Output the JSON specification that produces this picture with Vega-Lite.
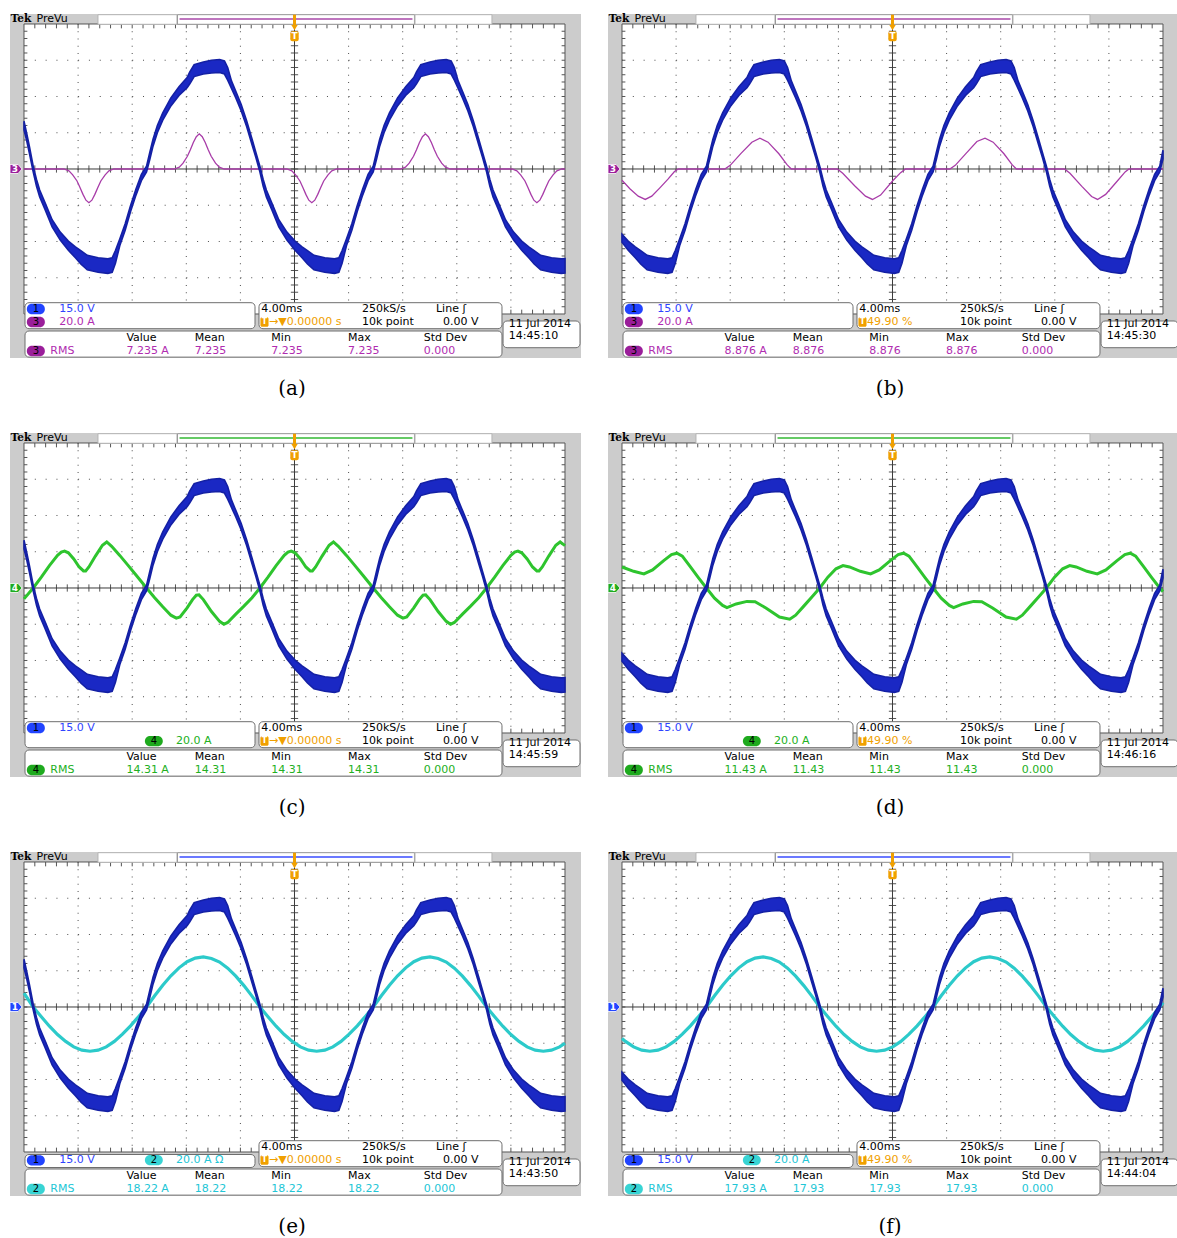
{
"$schema":"https://vega.github.io/schema/vega-lite/v6.json",
"padding":{"left":8,"top":12,"right":0,"bottom":0},
"background":"white",
"bounds":"flush",
"spacing":{"row":31,"column":27},
"columns":2,
"data":{"values":[
{"p":["a"],"s":"info","ch":"3","sel":"3","sc2":"20.0 A","trig":"→▼0.00000 s","rmsA":"7.235 A","rms":"7.235","tm":"14:45:10","lab":"(a)"},
{"p":["b"],"s":"info","ch":"3","sel":"3","sc2":"20.0 A","trig":" 49.90 %","rmsA":"8.876 A","rms":"8.876","tm":"14:45:30","lab":"(b)"},
{"p":["c"],"s":"info","ch":"4","sel":"4","sc2":"20.0 A","trig":"→▼0.00000 s","rmsA":"14.31 A","rms":"14.31","tm":"14:45:59","lab":"(c)"},
{"p":["d"],"s":"info","ch":"4","sel":"4","sc2":"20.0 A","trig":" 49.90 %","rmsA":"11.43 A","rms":"11.43","tm":"14:46:16","lab":"(d)"},
{"p":["e"],"s":"info","ch":"2","sel":"1","sc2":"20.0 A  Ω","trig":"→▼0.00000 s","rmsA":"18.22 A","rms":"18.22","tm":"14:43:50","lab":"(e)"},
{"p":["f"],"s":"info","ch":"2","sel":"1","sc2":"20.0 A","trig":" 49.90 %","rmsA":"17.93 A","rms":"17.93","tm":"14:44:04","lab":"(f)"},
{"p":["a","b","c","d","e","f"],"s":"gx","t":4},{"p":["a","b","c","d","e","f"],"s":"gx","t":8},{"p":["a","b","c","d","e","f"],"s":"gx","t":12},{"p":["a","b","c","d","e","f"],"s":"gx","t":16},{"p":["a","b","c","d","e","f"],"s":"gx","t":24},{"p":["a","b","c","d","e","f"],"s":"gx","t":28},{"p":["a","b","c","d","e","f"],"s":"gx","t":32},{"p":["a","b","c","d","e","f"],"s":"gx","t":36},
{"p":["a","b","c","d","e","f"],"s":"gy","y":-3},{"p":["a","b","c","d","e","f"],"s":"gy","y":-2},{"p":["a","b","c","d","e","f"],"s":"gy","y":-1},{"p":["a","b","c","d","e","f"],"s":"gy","y":1},{"p":["a","b","c","d","e","f"],"s":"gy","y":2},{"p":["a","b","c","d","e","f"],"s":"gy","y":3},
{"p":["a","b","c","d","e","f"],"s":"tx","t":0.8},{"p":["a","b","c","d","e","f"],"s":"tx","t":1.6},{"p":["a","b","c","d","e","f"],"s":"tx","t":2.4},{"p":["a","b","c","d","e","f"],"s":"tx","t":3.2},{"p":["a","b","c","d","e","f"],"s":"tx","t":4},{"p":["a","b","c","d","e","f"],"s":"tx","t":4.8},{"p":["a","b","c","d","e","f"],"s":"tx","t":5.6},{"p":["a","b","c","d","e","f"],"s":"tx","t":6.4},{"p":["a","b","c","d","e","f"],"s":"tx","t":7.2},{"p":["a","b","c","d","e","f"],"s":"tx","t":8},{"p":["a","b","c","d","e","f"],"s":"tx","t":8.8},{"p":["a","b","c","d","e","f"],"s":"tx","t":9.6},{"p":["a","b","c","d","e","f"],"s":"tx","t":10.4},{"p":["a","b","c","d","e","f"],"s":"tx","t":11.2},{"p":["a","b","c","d","e","f"],"s":"tx","t":12},{"p":["a","b","c","d","e","f"],"s":"tx","t":12.8},{"p":["a","b","c","d","e","f"],"s":"tx","t":13.6},{"p":["a","b","c","d","e","f"],"s":"tx","t":14.4},{"p":["a","b","c","d","e","f"],"s":"tx","t":15.2},{"p":["a","b","c","d","e","f"],"s":"tx","t":16},{"p":["a","b","c","d","e","f"],"s":"tx","t":16.8},{"p":["a","b","c","d","e","f"],"s":"tx","t":17.6},{"p":["a","b","c","d","e","f"],"s":"tx","t":18.4},{"p":["a","b","c","d","e","f"],"s":"tx","t":19.2},{"p":["a","b","c","d","e","f"],"s":"tx","t":20},{"p":["a","b","c","d","e","f"],"s":"tx","t":20.8},{"p":["a","b","c","d","e","f"],"s":"tx","t":21.6},{"p":["a","b","c","d","e","f"],"s":"tx","t":22.4},{"p":["a","b","c","d","e","f"],"s":"tx","t":23.2},{"p":["a","b","c","d","e","f"],"s":"tx","t":24},{"p":["a","b","c","d","e","f"],"s":"tx","t":24.8},{"p":["a","b","c","d","e","f"],"s":"tx","t":25.6},{"p":["a","b","c","d","e","f"],"s":"tx","t":26.4},{"p":["a","b","c","d","e","f"],"s":"tx","t":27.2},{"p":["a","b","c","d","e","f"],"s":"tx","t":28},{"p":["a","b","c","d","e","f"],"s":"tx","t":28.8},{"p":["a","b","c","d","e","f"],"s":"tx","t":29.6},{"p":["a","b","c","d","e","f"],"s":"tx","t":30.4},{"p":["a","b","c","d","e","f"],"s":"tx","t":31.2},{"p":["a","b","c","d","e","f"],"s":"tx","t":32},{"p":["a","b","c","d","e","f"],"s":"tx","t":32.8},{"p":["a","b","c","d","e","f"],"s":"tx","t":33.6},{"p":["a","b","c","d","e","f"],"s":"tx","t":34.4},{"p":["a","b","c","d","e","f"],"s":"tx","t":35.2},{"p":["a","b","c","d","e","f"],"s":"tx","t":36},{"p":["a","b","c","d","e","f"],"s":"tx","t":36.8},{"p":["a","b","c","d","e","f"],"s":"tx","t":37.6},{"p":["a","b","c","d","e","f"],"s":"tx","t":38.4},{"p":["a","b","c","d","e","f"],"s":"tx","t":39.2},
{"p":["a","b","c","d","e","f"],"s":"ty","y":-3.8},{"p":["a","b","c","d","e","f"],"s":"ty","y":-3.6},{"p":["a","b","c","d","e","f"],"s":"ty","y":-3.4},{"p":["a","b","c","d","e","f"],"s":"ty","y":-3.2},{"p":["a","b","c","d","e","f"],"s":"ty","y":-3},{"p":["a","b","c","d","e","f"],"s":"ty","y":-2.8},{"p":["a","b","c","d","e","f"],"s":"ty","y":-2.6},{"p":["a","b","c","d","e","f"],"s":"ty","y":-2.4},{"p":["a","b","c","d","e","f"],"s":"ty","y":-2.2},{"p":["a","b","c","d","e","f"],"s":"ty","y":-2},{"p":["a","b","c","d","e","f"],"s":"ty","y":-1.8},{"p":["a","b","c","d","e","f"],"s":"ty","y":-1.6},{"p":["a","b","c","d","e","f"],"s":"ty","y":-1.4},{"p":["a","b","c","d","e","f"],"s":"ty","y":-1.2},{"p":["a","b","c","d","e","f"],"s":"ty","y":-1},{"p":["a","b","c","d","e","f"],"s":"ty","y":-0.8},{"p":["a","b","c","d","e","f"],"s":"ty","y":-0.6},{"p":["a","b","c","d","e","f"],"s":"ty","y":-0.4},{"p":["a","b","c","d","e","f"],"s":"ty","y":-0.2},{"p":["a","b","c","d","e","f"],"s":"ty","y":0},{"p":["a","b","c","d","e","f"],"s":"ty","y":0.2},{"p":["a","b","c","d","e","f"],"s":"ty","y":0.4},{"p":["a","b","c","d","e","f"],"s":"ty","y":0.6},{"p":["a","b","c","d","e","f"],"s":"ty","y":0.8},{"p":["a","b","c","d","e","f"],"s":"ty","y":1},{"p":["a","b","c","d","e","f"],"s":"ty","y":1.2},{"p":["a","b","c","d","e","f"],"s":"ty","y":1.4},{"p":["a","b","c","d","e","f"],"s":"ty","y":1.6},{"p":["a","b","c","d","e","f"],"s":"ty","y":1.8},{"p":["a","b","c","d","e","f"],"s":"ty","y":2},{"p":["a","b","c","d","e","f"],"s":"ty","y":2.2},{"p":["a","b","c","d","e","f"],"s":"ty","y":2.4},{"p":["a","b","c","d","e","f"],"s":"ty","y":2.6},{"p":["a","b","c","d","e","f"],"s":"ty","y":2.8},{"p":["a","b","c","d","e","f"],"s":"ty","y":3},{"p":["a","b","c","d","e","f"],"s":"ty","y":3.2},{"p":["a","b","c","d","e","f"],"s":"ty","y":3.4},{"p":["a","b","c","d","e","f"],"s":"ty","y":3.6},{"p":["a","b","c","d","e","f"],"s":"ty","y":3.8},
{"p":["a","c","e"],"s":"v","t":0,"lo":1.08,"hi":1.32},{"p":["a","c","e"],"s":"v","t":0.2,"lo":0.78,"hi":0.98},{"p":["a","c","e"],"s":"v","t":0.4,"lo":0.43,"hi":0.62},{"p":["a","c","e"],"s":"v","t":0.68,"lo":-0.08,"hi":0.08},{"p":["a","c","e"],"s":"v","t":0.92,"lo":-0.47,"hi":-0.28},{"p":["a","c","e"],"s":"v","t":1.16,"lo":-0.77,"hi":-0.58},{"p":["a","c","e"],"s":"v","t":1.56,"lo":-1.12,"hi":-0.93},{"p":["a","c","e"],"s":"v","t":2.08,"lo":-1.6,"hi":-1.4},{"p":["a","c","e"],"s":"v","t":2.68,"lo":-1.96,"hi":-1.74},{"p":["a","c","e"],"s":"v","t":3.28,"lo":-2.24,"hi":-1.99},{"p":["a","c","e"],"s":"v","t":3.8,"lo":-2.45,"hi":-2.15},{"p":["a","c","e"],"s":"v","t":4.2,"lo":-2.62,"hi":-2.25},{"p":["a","c","e"],"s":"v","t":4.68,"lo":-2.78,"hi":-2.38},{"p":["a","c","e"],"s":"v","t":5.48,"lo":-2.85,"hi":-2.45},{"p":["a","c","e"],"s":"v","t":6.2,"lo":-2.88,"hi":-2.48},{"p":["a","c","e"],"s":"v","t":6.52,"lo":-2.85,"hi":-2.45},{"p":["a","c","e"],"s":"v","t":6.76,"lo":-2.6,"hi":-2.25},{"p":["a","c","e"],"s":"v","t":7.08,"lo":-2.12,"hi":-1.93},{"p":["a","c","e"],"s":"v","t":7.48,"lo":-1.69,"hi":-1.51},{"p":["a","c","e"],"s":"v","t":7.88,"lo":-1.17,"hi":-1.01},{"p":["a","c","e"],"s":"v","t":8.28,"lo":-0.72,"hi":-0.55},{"p":["a","c","e"],"s":"v","t":8.68,"lo":-0.32,"hi":-0.15},{"p":["a","c","e"],"s":"v","t":9.06,"lo":-0.08,"hi":0.08},{"p":["a","c","e"],"s":"v","t":9.3,"lo":0.26,"hi":0.46},{"p":["a","c","e"],"s":"v","t":9.54,"lo":0.63,"hi":0.82},{"p":["a","c","e"],"s":"v","t":9.86,"lo":1.0,"hi":1.2},{"p":["a","c","e"],"s":"v","t":10.26,"lo":1.35,"hi":1.55},{"p":["a","c","e"],"s":"v","t":10.86,"lo":1.74,"hi":1.96},{"p":["a","c","e"],"s":"v","t":11.46,"lo":2.03,"hi":2.27},{"p":["a","c","e"],"s":"v","t":12.06,"lo":2.24,"hi":2.52},{"p":["a","c","e"],"s":"v","t":12.26,"lo":2.35,"hi":2.68},{"p":["a","c","e"],"s":"v","t":12.58,"lo":2.55,"hi":2.88},{"p":["a","c","e"],"s":"v","t":13.26,"lo":2.62,"hi":2.95},{"p":["a","c","e"],"s":"v","t":13.86,"lo":2.65,"hi":3.0},{"p":["a","c","e"],"s":"v","t":14.46,"lo":2.66,"hi":3.02},{"p":["a","c","e"],"s":"v","t":14.82,"lo":2.62,"hi":2.98},{"p":["a","c","e"],"s":"v","t":15.06,"lo":2.45,"hi":2.8},{"p":["a","c","e"],"s":"v","t":15.34,"lo":2.22,"hi":2.43},{"p":["a","c","e"],"s":"v","t":15.66,"lo":1.96,"hi":2.14},{"p":["a","c","e"],"s":"v","t":16.06,"lo":1.6,"hi":1.78},{"p":["a","c","e"],"s":"v","t":16.46,"lo":1.17,"hi":1.33},{"p":["a","c","e"],"s":"v","t":16.86,"lo":0.67,"hi":0.83},{"p":["a","c","e"],"s":"v","t":17.14,"lo":0.32,"hi":0.46},{"p":["a","c","e"],"s":"v","t":17.44,"lo":-0.08,"hi":0.08},{"p":["a","c","e"],"s":"v","t":17.68,"lo":-0.47,"hi":-0.28},{"p":["a","c","e"],"s":"v","t":17.92,"lo":-0.77,"hi":-0.58},{"p":["a","c","e"],"s":"v","t":18.32,"lo":-1.12,"hi":-0.93},{"p":["a","c","e"],"s":"v","t":18.84,"lo":-1.6,"hi":-1.4},{"p":["a","c","e"],"s":"v","t":19.44,"lo":-1.96,"hi":-1.74},{"p":["a","c","e"],"s":"v","t":20.04,"lo":-2.24,"hi":-1.99},{"p":["a","c","e"],"s":"v","t":20.56,"lo":-2.45,"hi":-2.15},{"p":["a","c","e"],"s":"v","t":20.96,"lo":-2.62,"hi":-2.25},{"p":["a","c","e"],"s":"v","t":21.44,"lo":-2.78,"hi":-2.38},{"p":["a","c","e"],"s":"v","t":22.24,"lo":-2.85,"hi":-2.45},{"p":["a","c","e"],"s":"v","t":22.96,"lo":-2.88,"hi":-2.48},{"p":["a","c","e"],"s":"v","t":23.28,"lo":-2.85,"hi":-2.45},{"p":["a","c","e"],"s":"v","t":23.52,"lo":-2.6,"hi":-2.25},{"p":["a","c","e"],"s":"v","t":23.84,"lo":-2.12,"hi":-1.93},{"p":["a","c","e"],"s":"v","t":24.24,"lo":-1.69,"hi":-1.51},{"p":["a","c","e"],"s":"v","t":24.64,"lo":-1.17,"hi":-1.01},{"p":["a","c","e"],"s":"v","t":25.04,"lo":-0.72,"hi":-0.55},{"p":["a","c","e"],"s":"v","t":25.44,"lo":-0.32,"hi":-0.15},{"p":["a","c","e"],"s":"v","t":25.82,"lo":-0.08,"hi":0.08},{"p":["a","c","e"],"s":"v","t":26.06,"lo":0.26,"hi":0.46},{"p":["a","c","e"],"s":"v","t":26.3,"lo":0.63,"hi":0.82},{"p":["a","c","e"],"s":"v","t":26.62,"lo":1.0,"hi":1.2},{"p":["a","c","e"],"s":"v","t":27.02,"lo":1.35,"hi":1.55},{"p":["a","c","e"],"s":"v","t":27.62,"lo":1.74,"hi":1.96},{"p":["a","c","e"],"s":"v","t":28.22,"lo":2.03,"hi":2.27},{"p":["a","c","e"],"s":"v","t":28.82,"lo":2.24,"hi":2.52},{"p":["a","c","e"],"s":"v","t":29.02,"lo":2.35,"hi":2.68},{"p":["a","c","e"],"s":"v","t":29.34,"lo":2.55,"hi":2.88},{"p":["a","c","e"],"s":"v","t":30.02,"lo":2.62,"hi":2.95},{"p":["a","c","e"],"s":"v","t":30.62,"lo":2.65,"hi":3.0},{"p":["a","c","e"],"s":"v","t":31.22,"lo":2.66,"hi":3.02},{"p":["a","c","e"],"s":"v","t":31.58,"lo":2.62,"hi":2.98},{"p":["a","c","e"],"s":"v","t":31.82,"lo":2.45,"hi":2.8},{"p":["a","c","e"],"s":"v","t":32.1,"lo":2.22,"hi":2.43},{"p":["a","c","e"],"s":"v","t":32.42,"lo":1.96,"hi":2.14},{"p":["a","c","e"],"s":"v","t":32.82,"lo":1.6,"hi":1.78},{"p":["a","c","e"],"s":"v","t":33.22,"lo":1.17,"hi":1.33},{"p":["a","c","e"],"s":"v","t":33.62,"lo":0.67,"hi":0.83},{"p":["a","c","e"],"s":"v","t":33.9,"lo":0.32,"hi":0.46},{"p":["a","c","e"],"s":"v","t":34.2,"lo":-0.08,"hi":0.08},{"p":["a","c","e"],"s":"v","t":34.44,"lo":-0.47,"hi":-0.28},{"p":["a","c","e"],"s":"v","t":34.68,"lo":-0.77,"hi":-0.58},{"p":["a","c","e"],"s":"v","t":35.08,"lo":-1.12,"hi":-0.93},{"p":["a","c","e"],"s":"v","t":35.6,"lo":-1.6,"hi":-1.4},{"p":["a","c","e"],"s":"v","t":36.2,"lo":-1.96,"hi":-1.74},{"p":["a","c","e"],"s":"v","t":36.8,"lo":-2.24,"hi":-1.99},{"p":["a","c","e"],"s":"v","t":37.32,"lo":-2.45,"hi":-2.15},{"p":["a","c","e"],"s":"v","t":37.72,"lo":-2.62,"hi":-2.25},{"p":["a","c","e"],"s":"v","t":38.2,"lo":-2.78,"hi":-2.38},{"p":["a","c","e"],"s":"v","t":39.0,"lo":-2.85,"hi":-2.45},{"p":["a","c","e"],"s":"v","t":39.72,"lo":-2.88,"hi":-2.48},{"p":["a","c","e"],"s":"v","t":40,"lo":-2.87,"hi":-2.47},
{"p":["b","d","f"],"s":"v","t":0,"lo":-2.02,"hi":-1.8},{"p":["b","d","f"],"s":"v","t":0.46,"lo":-2.24,"hi":-1.99},{"p":["b","d","f"],"s":"v","t":0.98,"lo":-2.45,"hi":-2.15},{"p":["b","d","f"],"s":"v","t":1.38,"lo":-2.62,"hi":-2.25},{"p":["b","d","f"],"s":"v","t":1.86,"lo":-2.78,"hi":-2.38},{"p":["b","d","f"],"s":"v","t":2.66,"lo":-2.85,"hi":-2.45},{"p":["b","d","f"],"s":"v","t":3.38,"lo":-2.88,"hi":-2.48},{"p":["b","d","f"],"s":"v","t":3.7,"lo":-2.85,"hi":-2.45},{"p":["b","d","f"],"s":"v","t":3.94,"lo":-2.6,"hi":-2.25},{"p":["b","d","f"],"s":"v","t":4.26,"lo":-2.12,"hi":-1.93},{"p":["b","d","f"],"s":"v","t":4.66,"lo":-1.69,"hi":-1.51},{"p":["b","d","f"],"s":"v","t":5.06,"lo":-1.17,"hi":-1.01},{"p":["b","d","f"],"s":"v","t":5.46,"lo":-0.72,"hi":-0.55},{"p":["b","d","f"],"s":"v","t":5.86,"lo":-0.32,"hi":-0.15},{"p":["b","d","f"],"s":"v","t":6.24,"lo":-0.08,"hi":0.08},{"p":["b","d","f"],"s":"v","t":6.48,"lo":0.26,"hi":0.46},{"p":["b","d","f"],"s":"v","t":6.72,"lo":0.63,"hi":0.82},{"p":["b","d","f"],"s":"v","t":7.04,"lo":1.0,"hi":1.2},{"p":["b","d","f"],"s":"v","t":7.44,"lo":1.35,"hi":1.55},{"p":["b","d","f"],"s":"v","t":8.04,"lo":1.74,"hi":1.96},{"p":["b","d","f"],"s":"v","t":8.64,"lo":2.03,"hi":2.27},{"p":["b","d","f"],"s":"v","t":9.24,"lo":2.24,"hi":2.52},{"p":["b","d","f"],"s":"v","t":9.44,"lo":2.35,"hi":2.68},{"p":["b","d","f"],"s":"v","t":9.76,"lo":2.55,"hi":2.88},{"p":["b","d","f"],"s":"v","t":10.44,"lo":2.62,"hi":2.95},{"p":["b","d","f"],"s":"v","t":11.04,"lo":2.65,"hi":3.0},{"p":["b","d","f"],"s":"v","t":11.64,"lo":2.66,"hi":3.02},{"p":["b","d","f"],"s":"v","t":12.0,"lo":2.62,"hi":2.98},{"p":["b","d","f"],"s":"v","t":12.24,"lo":2.45,"hi":2.8},{"p":["b","d","f"],"s":"v","t":12.52,"lo":2.22,"hi":2.43},{"p":["b","d","f"],"s":"v","t":12.84,"lo":1.96,"hi":2.14},{"p":["b","d","f"],"s":"v","t":13.24,"lo":1.6,"hi":1.78},{"p":["b","d","f"],"s":"v","t":13.64,"lo":1.17,"hi":1.33},{"p":["b","d","f"],"s":"v","t":14.04,"lo":0.67,"hi":0.83},{"p":["b","d","f"],"s":"v","t":14.32,"lo":0.32,"hi":0.46},{"p":["b","d","f"],"s":"v","t":14.62,"lo":-0.08,"hi":0.08},{"p":["b","d","f"],"s":"v","t":14.86,"lo":-0.47,"hi":-0.28},{"p":["b","d","f"],"s":"v","t":15.1,"lo":-0.77,"hi":-0.58},{"p":["b","d","f"],"s":"v","t":15.5,"lo":-1.12,"hi":-0.93},{"p":["b","d","f"],"s":"v","t":16.02,"lo":-1.6,"hi":-1.4},{"p":["b","d","f"],"s":"v","t":16.62,"lo":-1.96,"hi":-1.74},{"p":["b","d","f"],"s":"v","t":17.22,"lo":-2.24,"hi":-1.99},{"p":["b","d","f"],"s":"v","t":17.74,"lo":-2.45,"hi":-2.15},{"p":["b","d","f"],"s":"v","t":18.14,"lo":-2.62,"hi":-2.25},{"p":["b","d","f"],"s":"v","t":18.62,"lo":-2.78,"hi":-2.38},{"p":["b","d","f"],"s":"v","t":19.42,"lo":-2.85,"hi":-2.45},{"p":["b","d","f"],"s":"v","t":20.14,"lo":-2.88,"hi":-2.48},{"p":["b","d","f"],"s":"v","t":20.46,"lo":-2.85,"hi":-2.45},{"p":["b","d","f"],"s":"v","t":20.7,"lo":-2.6,"hi":-2.25},{"p":["b","d","f"],"s":"v","t":21.02,"lo":-2.12,"hi":-1.93},{"p":["b","d","f"],"s":"v","t":21.42,"lo":-1.69,"hi":-1.51},{"p":["b","d","f"],"s":"v","t":21.82,"lo":-1.17,"hi":-1.01},{"p":["b","d","f"],"s":"v","t":22.22,"lo":-0.72,"hi":-0.55},{"p":["b","d","f"],"s":"v","t":22.62,"lo":-0.32,"hi":-0.15},{"p":["b","d","f"],"s":"v","t":23.0,"lo":-0.08,"hi":0.08},{"p":["b","d","f"],"s":"v","t":23.24,"lo":0.26,"hi":0.46},{"p":["b","d","f"],"s":"v","t":23.48,"lo":0.63,"hi":0.82},{"p":["b","d","f"],"s":"v","t":23.8,"lo":1.0,"hi":1.2},{"p":["b","d","f"],"s":"v","t":24.2,"lo":1.35,"hi":1.55},{"p":["b","d","f"],"s":"v","t":24.8,"lo":1.74,"hi":1.96},{"p":["b","d","f"],"s":"v","t":25.4,"lo":2.03,"hi":2.27},{"p":["b","d","f"],"s":"v","t":26.0,"lo":2.24,"hi":2.52},{"p":["b","d","f"],"s":"v","t":26.2,"lo":2.35,"hi":2.68},{"p":["b","d","f"],"s":"v","t":26.52,"lo":2.55,"hi":2.88},{"p":["b","d","f"],"s":"v","t":27.2,"lo":2.62,"hi":2.95},{"p":["b","d","f"],"s":"v","t":27.8,"lo":2.65,"hi":3.0},{"p":["b","d","f"],"s":"v","t":28.4,"lo":2.66,"hi":3.02},{"p":["b","d","f"],"s":"v","t":28.76,"lo":2.62,"hi":2.98},{"p":["b","d","f"],"s":"v","t":29.0,"lo":2.45,"hi":2.8},{"p":["b","d","f"],"s":"v","t":29.28,"lo":2.22,"hi":2.43},{"p":["b","d","f"],"s":"v","t":29.6,"lo":1.96,"hi":2.14},{"p":["b","d","f"],"s":"v","t":30.0,"lo":1.6,"hi":1.78},{"p":["b","d","f"],"s":"v","t":30.4,"lo":1.17,"hi":1.33},{"p":["b","d","f"],"s":"v","t":30.8,"lo":0.67,"hi":0.83},{"p":["b","d","f"],"s":"v","t":31.08,"lo":0.32,"hi":0.46},{"p":["b","d","f"],"s":"v","t":31.38,"lo":-0.08,"hi":0.08},{"p":["b","d","f"],"s":"v","t":31.62,"lo":-0.47,"hi":-0.28},{"p":["b","d","f"],"s":"v","t":31.86,"lo":-0.77,"hi":-0.58},{"p":["b","d","f"],"s":"v","t":32.26,"lo":-1.12,"hi":-0.93},{"p":["b","d","f"],"s":"v","t":32.78,"lo":-1.6,"hi":-1.4},{"p":["b","d","f"],"s":"v","t":33.38,"lo":-1.96,"hi":-1.74},{"p":["b","d","f"],"s":"v","t":33.98,"lo":-2.24,"hi":-1.99},{"p":["b","d","f"],"s":"v","t":34.5,"lo":-2.45,"hi":-2.15},{"p":["b","d","f"],"s":"v","t":34.9,"lo":-2.62,"hi":-2.25},{"p":["b","d","f"],"s":"v","t":35.38,"lo":-2.78,"hi":-2.38},{"p":["b","d","f"],"s":"v","t":36.18,"lo":-2.85,"hi":-2.45},{"p":["b","d","f"],"s":"v","t":36.9,"lo":-2.88,"hi":-2.48},{"p":["b","d","f"],"s":"v","t":37.22,"lo":-2.85,"hi":-2.45},{"p":["b","d","f"],"s":"v","t":37.46,"lo":-2.6,"hi":-2.25},{"p":["b","d","f"],"s":"v","t":37.78,"lo":-2.12,"hi":-1.93},{"p":["b","d","f"],"s":"v","t":38.18,"lo":-1.69,"hi":-1.51},{"p":["b","d","f"],"s":"v","t":38.58,"lo":-1.17,"hi":-1.01},{"p":["b","d","f"],"s":"v","t":38.98,"lo":-0.72,"hi":-0.55},{"p":["b","d","f"],"s":"v","t":39.38,"lo":-0.32,"hi":-0.15},{"p":["b","d","f"],"s":"v","t":39.76,"lo":-0.08,"hi":0.08},{"p":["b","d","f"],"s":"v","t":40,"lo":0.28,"hi":0.52},
{"p":["a"],"s":"m","t":0,"v":0},{"p":["a"],"s":"m","t":2.96,"v":0},{"p":["a"],"s":"m","t":3.32,"v":-0.05},{"p":["a"],"s":"m","t":3.6,"v":-0.16},{"p":["a"],"s":"m","t":3.92,"v":-0.33},{"p":["a"],"s":"m","t":4.14,"v":-0.51},{"p":["a"],"s":"m","t":4.36,"v":-0.7},{"p":["a"],"s":"m","t":4.58,"v":-0.86},{"p":["a"],"s":"m","t":4.8,"v":-0.93},{"p":["a"],"s":"m","t":5.02,"v":-0.86},{"p":["a"],"s":"m","t":5.24,"v":-0.7},{"p":["a"],"s":"m","t":5.46,"v":-0.51},{"p":["a"],"s":"m","t":5.68,"v":-0.33},{"p":["a"],"s":"m","t":6.0,"v":-0.16},{"p":["a"],"s":"m","t":6.28,"v":-0.05},{"p":["a"],"s":"m","t":6.64,"v":0},{"p":["a"],"s":"m","t":11.12,"v":0},{"p":["a"],"s":"m","t":11.48,"v":0.05},{"p":["a"],"s":"m","t":11.76,"v":0.16},{"p":["a"],"s":"m","t":12.08,"v":0.35},{"p":["a"],"s":"m","t":12.3,"v":0.53},{"p":["a"],"s":"m","t":12.52,"v":0.73},{"p":["a"],"s":"m","t":12.74,"v":0.89},{"p":["a"],"s":"m","t":12.96,"v":0.97},{"p":["a"],"s":"m","t":13.18,"v":0.89},{"p":["a"],"s":"m","t":13.4,"v":0.73},{"p":["a"],"s":"m","t":13.62,"v":0.53},{"p":["a"],"s":"m","t":13.84,"v":0.35},{"p":["a"],"s":"m","t":14.16,"v":0.16},{"p":["a"],"s":"m","t":14.44,"v":0.05},{"p":["a"],"s":"m","t":14.8,"v":0},{"p":["a"],"s":"m","t":19.44,"v":0},{"p":["a"],"s":"m","t":19.8,"v":-0.05},{"p":["a"],"s":"m","t":20.08,"v":-0.16},{"p":["a"],"s":"m","t":20.4,"v":-0.33},{"p":["a"],"s":"m","t":20.62,"v":-0.51},{"p":["a"],"s":"m","t":20.84,"v":-0.7},{"p":["a"],"s":"m","t":21.06,"v":-0.86},{"p":["a"],"s":"m","t":21.28,"v":-0.93},{"p":["a"],"s":"m","t":21.5,"v":-0.86},{"p":["a"],"s":"m","t":21.72,"v":-0.7},{"p":["a"],"s":"m","t":21.94,"v":-0.51},{"p":["a"],"s":"m","t":22.16,"v":-0.33},{"p":["a"],"s":"m","t":22.48,"v":-0.16},{"p":["a"],"s":"m","t":22.76,"v":-0.05},{"p":["a"],"s":"m","t":23.12,"v":0},{"p":["a"],"s":"m","t":27.84,"v":0},{"p":["a"],"s":"m","t":28.2,"v":0.05},{"p":["a"],"s":"m","t":28.48,"v":0.16},{"p":["a"],"s":"m","t":28.8,"v":0.35},{"p":["a"],"s":"m","t":29.02,"v":0.53},{"p":["a"],"s":"m","t":29.24,"v":0.73},{"p":["a"],"s":"m","t":29.46,"v":0.89},{"p":["a"],"s":"m","t":29.68,"v":0.97},{"p":["a"],"s":"m","t":29.9,"v":0.89},{"p":["a"],"s":"m","t":30.12,"v":0.73},{"p":["a"],"s":"m","t":30.34,"v":0.53},{"p":["a"],"s":"m","t":30.56,"v":0.35},{"p":["a"],"s":"m","t":30.88,"v":0.16},{"p":["a"],"s":"m","t":31.16,"v":0.05},{"p":["a"],"s":"m","t":31.52,"v":0},{"p":["a"],"s":"m","t":36.08,"v":0},{"p":["a"],"s":"m","t":36.44,"v":-0.05},{"p":["a"],"s":"m","t":36.72,"v":-0.16},{"p":["a"],"s":"m","t":37.04,"v":-0.33},{"p":["a"],"s":"m","t":37.26,"v":-0.51},{"p":["a"],"s":"m","t":37.48,"v":-0.7},{"p":["a"],"s":"m","t":37.7,"v":-0.86},{"p":["a"],"s":"m","t":37.92,"v":-0.93},{"p":["a"],"s":"m","t":38.14,"v":-0.86},{"p":["a"],"s":"m","t":38.36,"v":-0.7},{"p":["a"],"s":"m","t":38.58,"v":-0.51},{"p":["a"],"s":"m","t":38.8,"v":-0.33},{"p":["a"],"s":"m","t":39.12,"v":-0.16},{"p":["a"],"s":"m","t":39.4,"v":-0.05},{"p":["a"],"s":"m","t":39.76,"v":0},{"p":["a"],"s":"m","t":40,"v":0},
{"p":["b"],"s":"m","t":0,"v":-0.31},{"p":["b"],"s":"m","t":0.6,"v":-0.55},{"p":["b"],"s":"m","t":1.2,"v":-0.75},{"p":["b"],"s":"m","t":1.72,"v":-0.84},{"p":["b"],"s":"m","t":2.2,"v":-0.75},{"p":["b"],"s":"m","t":2.8,"v":-0.52},{"p":["b"],"s":"m","t":3.4,"v":-0.28},{"p":["b"],"s":"m","t":3.88,"v":-0.07},{"p":["b"],"s":"m","t":4.16,"v":0},{"p":["b"],"s":"m","t":7.6,"v":0},{"p":["b"],"s":"m","t":8.0,"v":0.1},{"p":["b"],"s":"m","t":8.8,"v":0.43},{"p":["b"],"s":"m","t":9.6,"v":0.74},{"p":["b"],"s":"m","t":10.2,"v":0.85},{"p":["b"],"s":"m","t":10.8,"v":0.74},{"p":["b"],"s":"m","t":11.6,"v":0.42},{"p":["b"],"s":"m","t":12.2,"v":0.12},{"p":["b"],"s":"m","t":12.52,"v":0},{"p":["b"],"s":"m","t":15.92,"v":0},{"p":["b"],"s":"m","t":16.32,"v":-0.12},{"p":["b"],"s":"m","t":17.2,"v":-0.46},{"p":["b"],"s":"m","t":18.0,"v":-0.75},{"p":["b"],"s":"m","t":18.52,"v":-0.84},{"p":["b"],"s":"m","t":19.12,"v":-0.72},{"p":["b"],"s":"m","t":20.0,"v":-0.33},{"p":["b"],"s":"m","t":20.6,"v":-0.1},{"p":["b"],"s":"m","t":20.96,"v":0},{"p":["b"],"s":"m","t":24.24,"v":0},{"p":["b"],"s":"m","t":24.64,"v":0.1},{"p":["b"],"s":"m","t":25.44,"v":0.43},{"p":["b"],"s":"m","t":26.24,"v":0.76},{"p":["b"],"s":"m","t":26.84,"v":0.85},{"p":["b"],"s":"m","t":27.44,"v":0.74},{"p":["b"],"s":"m","t":28.24,"v":0.42},{"p":["b"],"s":"m","t":28.84,"v":0.12},{"p":["b"],"s":"m","t":29.16,"v":0},{"p":["b"],"s":"m","t":32.72,"v":0},{"p":["b"],"s":"m","t":33.12,"v":-0.12},{"p":["b"],"s":"m","t":34.0,"v":-0.48},{"p":["b"],"s":"m","t":34.72,"v":-0.76},{"p":["b"],"s":"m","t":35.16,"v":-0.84},{"p":["b"],"s":"m","t":35.76,"v":-0.7},{"p":["b"],"s":"m","t":36.56,"v":-0.36},{"p":["b"],"s":"m","t":37.2,"v":-0.08},{"p":["b"],"s":"m","t":37.48,"v":0},{"p":["b"],"s":"m","t":40,"v":0},
{"p":["c"],"s":"g","t":0,"v":-0.3},{"p":["c"],"s":"g","t":0.68,"v":0},{"p":["c"],"s":"g","t":1.28,"v":0.3},{"p":["c"],"s":"g","t":1.88,"v":0.62},{"p":["c"],"s":"g","t":2.48,"v":0.9},{"p":["c"],"s":"g","t":2.76,"v":0.99},{"p":["c"],"s":"g","t":3.0,"v":1.02},{"p":["c"],"s":"g","t":3.28,"v":0.97},{"p":["c"],"s":"g","t":3.68,"v":0.8},{"p":["c"],"s":"g","t":4.08,"v":0.58},{"p":["c"],"s":"g","t":4.4,"v":0.47},{"p":["c"],"s":"g","t":4.56,"v":0.47},{"p":["c"],"s":"g","t":4.8,"v":0.58},{"p":["c"],"s":"g","t":5.28,"v":0.88},{"p":["c"],"s":"g","t":5.8,"v":1.18},{"p":["c"],"s":"g","t":6.12,"v":1.27},{"p":["c"],"s":"g","t":6.48,"v":1.15},{"p":["c"],"s":"g","t":7.08,"v":0.9},{"p":["c"],"s":"g","t":7.68,"v":0.63},{"p":["c"],"s":"g","t":8.28,"v":0.36},{"p":["c"],"s":"g","t":9.06,"v":0},{"p":["c"],"s":"g","t":9.66,"v":-0.27},{"p":["c"],"s":"g","t":10.26,"v":-0.52},{"p":["c"],"s":"g","t":10.86,"v":-0.75},{"p":["c"],"s":"g","t":11.26,"v":-0.83},{"p":["c"],"s":"g","t":11.54,"v":-0.8},{"p":["c"],"s":"g","t":12.06,"v":-0.55},{"p":["c"],"s":"g","t":12.46,"v":-0.32},{"p":["c"],"s":"g","t":12.74,"v":-0.2},{"p":["c"],"s":"g","t":12.94,"v":-0.19},{"p":["c"],"s":"g","t":13.26,"v":-0.32},{"p":["c"],"s":"g","t":13.86,"v":-0.65},{"p":["c"],"s":"g","t":14.46,"v":-0.92},{"p":["c"],"s":"g","t":14.78,"v":-1.0},{"p":["c"],"s":"g","t":15.06,"v":-0.95},{"p":["c"],"s":"g","t":15.66,"v":-0.72},{"p":["c"],"s":"g","t":16.26,"v":-0.5},{"p":["c"],"s":"g","t":16.86,"v":-0.27},{"p":["c"],"s":"g","t":17.44,"v":0},{"p":["c"],"s":"g","t":18.04,"v":0.3},{"p":["c"],"s":"g","t":18.64,"v":0.62},{"p":["c"],"s":"g","t":19.24,"v":0.9},{"p":["c"],"s":"g","t":19.52,"v":0.99},{"p":["c"],"s":"g","t":19.76,"v":1.02},{"p":["c"],"s":"g","t":20.04,"v":0.97},{"p":["c"],"s":"g","t":20.44,"v":0.8},{"p":["c"],"s":"g","t":20.84,"v":0.58},{"p":["c"],"s":"g","t":21.16,"v":0.47},{"p":["c"],"s":"g","t":21.32,"v":0.47},{"p":["c"],"s":"g","t":21.56,"v":0.58},{"p":["c"],"s":"g","t":22.04,"v":0.88},{"p":["c"],"s":"g","t":22.56,"v":1.18},{"p":["c"],"s":"g","t":22.88,"v":1.27},{"p":["c"],"s":"g","t":23.24,"v":1.15},{"p":["c"],"s":"g","t":23.84,"v":0.9},{"p":["c"],"s":"g","t":24.44,"v":0.63},{"p":["c"],"s":"g","t":25.04,"v":0.36},{"p":["c"],"s":"g","t":25.82,"v":0},{"p":["c"],"s":"g","t":26.42,"v":-0.27},{"p":["c"],"s":"g","t":27.02,"v":-0.52},{"p":["c"],"s":"g","t":27.62,"v":-0.75},{"p":["c"],"s":"g","t":28.02,"v":-0.83},{"p":["c"],"s":"g","t":28.3,"v":-0.8},{"p":["c"],"s":"g","t":28.82,"v":-0.55},{"p":["c"],"s":"g","t":29.22,"v":-0.32},{"p":["c"],"s":"g","t":29.5,"v":-0.2},{"p":["c"],"s":"g","t":29.7,"v":-0.19},{"p":["c"],"s":"g","t":30.02,"v":-0.32},{"p":["c"],"s":"g","t":30.62,"v":-0.65},{"p":["c"],"s":"g","t":31.22,"v":-0.92},{"p":["c"],"s":"g","t":31.54,"v":-1.0},{"p":["c"],"s":"g","t":31.82,"v":-0.95},{"p":["c"],"s":"g","t":32.42,"v":-0.72},{"p":["c"],"s":"g","t":33.02,"v":-0.5},{"p":["c"],"s":"g","t":33.62,"v":-0.27},{"p":["c"],"s":"g","t":34.2,"v":0},{"p":["c"],"s":"g","t":34.8,"v":0.3},{"p":["c"],"s":"g","t":35.4,"v":0.62},{"p":["c"],"s":"g","t":36.0,"v":0.9},{"p":["c"],"s":"g","t":36.28,"v":0.99},{"p":["c"],"s":"g","t":36.52,"v":1.02},{"p":["c"],"s":"g","t":36.8,"v":0.97},{"p":["c"],"s":"g","t":37.2,"v":0.8},{"p":["c"],"s":"g","t":37.6,"v":0.58},{"p":["c"],"s":"g","t":37.92,"v":0.47},{"p":["c"],"s":"g","t":38.08,"v":0.47},{"p":["c"],"s":"g","t":38.32,"v":0.58},{"p":["c"],"s":"g","t":38.8,"v":0.88},{"p":["c"],"s":"g","t":39.32,"v":1.18},{"p":["c"],"s":"g","t":39.64,"v":1.27},{"p":["c"],"s":"g","t":40,"v":1.17},
{"p":["d"],"s":"g","t":0,"v":0.58},{"p":["d"],"s":"g","t":0.86,"v":0.46},{"p":["d"],"s":"g","t":1.62,"v":0.39},{"p":["d"],"s":"g","t":2.26,"v":0.5},{"p":["d"],"s":"g","t":3.06,"v":0.75},{"p":["d"],"s":"g","t":3.66,"v":0.92},{"p":["d"],"s":"g","t":4.06,"v":0.96},{"p":["d"],"s":"g","t":4.46,"v":0.88},{"p":["d"],"s":"g","t":5.06,"v":0.58},{"p":["d"],"s":"g","t":5.66,"v":0.28},{"p":["d"],"s":"g","t":6.24,"v":0},{"p":["d"],"s":"g","t":6.84,"v":-0.28},{"p":["d"],"s":"g","t":7.44,"v":-0.48},{"p":["d"],"s":"g","t":7.76,"v":-0.54},{"p":["d"],"s":"g","t":8.44,"v":-0.44},{"p":["d"],"s":"g","t":9.24,"v":-0.37},{"p":["d"],"s":"g","t":9.84,"v":-0.38},{"p":["d"],"s":"g","t":10.64,"v":-0.55},{"p":["d"],"s":"g","t":11.64,"v":-0.8},{"p":["d"],"s":"g","t":12.4,"v":-0.86},{"p":["d"],"s":"g","t":12.84,"v":-0.75},{"p":["d"],"s":"g","t":13.44,"v":-0.5},{"p":["d"],"s":"g","t":14.04,"v":-0.25},{"p":["d"],"s":"g","t":14.62,"v":0},{"p":["d"],"s":"g","t":15.22,"v":0.3},{"p":["d"],"s":"g","t":15.82,"v":0.53},{"p":["d"],"s":"g","t":16.34,"v":0.62},{"p":["d"],"s":"g","t":16.82,"v":0.58},{"p":["d"],"s":"g","t":17.62,"v":0.46},{"p":["d"],"s":"g","t":18.38,"v":0.39},{"p":["d"],"s":"g","t":19.02,"v":0.5},{"p":["d"],"s":"g","t":19.82,"v":0.75},{"p":["d"],"s":"g","t":20.42,"v":0.92},{"p":["d"],"s":"g","t":20.82,"v":0.96},{"p":["d"],"s":"g","t":21.22,"v":0.88},{"p":["d"],"s":"g","t":21.82,"v":0.58},{"p":["d"],"s":"g","t":22.42,"v":0.28},{"p":["d"],"s":"g","t":23.0,"v":0},{"p":["d"],"s":"g","t":23.6,"v":-0.28},{"p":["d"],"s":"g","t":24.2,"v":-0.48},{"p":["d"],"s":"g","t":24.52,"v":-0.54},{"p":["d"],"s":"g","t":25.2,"v":-0.44},{"p":["d"],"s":"g","t":26.0,"v":-0.37},{"p":["d"],"s":"g","t":26.6,"v":-0.38},{"p":["d"],"s":"g","t":27.4,"v":-0.55},{"p":["d"],"s":"g","t":28.4,"v":-0.8},{"p":["d"],"s":"g","t":29.16,"v":-0.86},{"p":["d"],"s":"g","t":29.6,"v":-0.75},{"p":["d"],"s":"g","t":30.2,"v":-0.5},{"p":["d"],"s":"g","t":30.8,"v":-0.25},{"p":["d"],"s":"g","t":31.38,"v":0},{"p":["d"],"s":"g","t":31.98,"v":0.3},{"p":["d"],"s":"g","t":32.58,"v":0.53},{"p":["d"],"s":"g","t":33.1,"v":0.62},{"p":["d"],"s":"g","t":33.58,"v":0.58},{"p":["d"],"s":"g","t":34.38,"v":0.46},{"p":["d"],"s":"g","t":35.14,"v":0.39},{"p":["d"],"s":"g","t":35.78,"v":0.5},{"p":["d"],"s":"g","t":36.58,"v":0.75},{"p":["d"],"s":"g","t":37.18,"v":0.92},{"p":["d"],"s":"g","t":37.58,"v":0.96},{"p":["d"],"s":"g","t":37.98,"v":0.88},{"p":["d"],"s":"g","t":38.58,"v":0.58},{"p":["d"],"s":"g","t":39.18,"v":0.28},{"p":["d"],"s":"g","t":39.76,"v":0},{"p":["d"],"s":"g","t":40,"v":-0.1},
{"p":["e"],"s":"c","t":0,"v":0.38},{"p":["e"],"s":"c","t":0.68,"v":0},{"p":["e"],"s":"c","t":1.28,"v":-0.27},{"p":["e"],"s":"c","t":1.88,"v":-0.53},{"p":["e"],"s":"c","t":2.48,"v":-0.76},{"p":["e"],"s":"c","t":3.08,"v":-0.95},{"p":["e"],"s":"c","t":3.68,"v":-1.1},{"p":["e"],"s":"c","t":4.28,"v":-1.19},{"p":["e"],"s":"c","t":4.88,"v":-1.22},{"p":["e"],"s":"c","t":5.48,"v":-1.19},{"p":["e"],"s":"c","t":6.08,"v":-1.1},{"p":["e"],"s":"c","t":6.68,"v":-0.95},{"p":["e"],"s":"c","t":7.28,"v":-0.75},{"p":["e"],"s":"c","t":7.88,"v":-0.52},{"p":["e"],"s":"c","t":8.48,"v":-0.26},{"p":["e"],"s":"c","t":9.06,"v":0},{"p":["e"],"s":"c","t":9.66,"v":0.31},{"p":["e"],"s":"c","t":10.26,"v":0.6},{"p":["e"],"s":"c","t":10.86,"v":0.86},{"p":["e"],"s":"c","t":11.46,"v":1.08},{"p":["e"],"s":"c","t":12.06,"v":1.25},{"p":["e"],"s":"c","t":12.66,"v":1.35},{"p":["e"],"s":"c","t":13.26,"v":1.38},{"p":["e"],"s":"c","t":13.86,"v":1.34},{"p":["e"],"s":"c","t":14.46,"v":1.24},{"p":["e"],"s":"c","t":15.06,"v":1.07},{"p":["e"],"s":"c","t":15.66,"v":0.85},{"p":["e"],"s":"c","t":16.26,"v":0.59},{"p":["e"],"s":"c","t":16.86,"v":0.3},{"p":["e"],"s":"c","t":17.44,"v":0},{"p":["e"],"s":"c","t":18.04,"v":-0.27},{"p":["e"],"s":"c","t":18.64,"v":-0.53},{"p":["e"],"s":"c","t":19.24,"v":-0.76},{"p":["e"],"s":"c","t":19.84,"v":-0.95},{"p":["e"],"s":"c","t":20.44,"v":-1.1},{"p":["e"],"s":"c","t":21.04,"v":-1.19},{"p":["e"],"s":"c","t":21.64,"v":-1.22},{"p":["e"],"s":"c","t":22.24,"v":-1.19},{"p":["e"],"s":"c","t":22.84,"v":-1.1},{"p":["e"],"s":"c","t":23.44,"v":-0.95},{"p":["e"],"s":"c","t":24.04,"v":-0.75},{"p":["e"],"s":"c","t":24.64,"v":-0.52},{"p":["e"],"s":"c","t":25.24,"v":-0.26},{"p":["e"],"s":"c","t":25.82,"v":0},{"p":["e"],"s":"c","t":26.42,"v":0.31},{"p":["e"],"s":"c","t":27.02,"v":0.6},{"p":["e"],"s":"c","t":27.62,"v":0.86},{"p":["e"],"s":"c","t":28.22,"v":1.08},{"p":["e"],"s":"c","t":28.82,"v":1.25},{"p":["e"],"s":"c","t":29.42,"v":1.35},{"p":["e"],"s":"c","t":30.02,"v":1.38},{"p":["e"],"s":"c","t":30.62,"v":1.34},{"p":["e"],"s":"c","t":31.22,"v":1.24},{"p":["e"],"s":"c","t":31.82,"v":1.07},{"p":["e"],"s":"c","t":32.42,"v":0.85},{"p":["e"],"s":"c","t":33.02,"v":0.59},{"p":["e"],"s":"c","t":33.62,"v":0.3},{"p":["e"],"s":"c","t":34.2,"v":0},{"p":["e"],"s":"c","t":34.8,"v":-0.27},{"p":["e"],"s":"c","t":35.4,"v":-0.53},{"p":["e"],"s":"c","t":36.0,"v":-0.76},{"p":["e"],"s":"c","t":36.6,"v":-0.95},{"p":["e"],"s":"c","t":37.2,"v":-1.1},{"p":["e"],"s":"c","t":37.8,"v":-1.19},{"p":["e"],"s":"c","t":38.4,"v":-1.22},{"p":["e"],"s":"c","t":39.0,"v":-1.19},{"p":["e"],"s":"c","t":39.6,"v":-1.1},{"p":["e"],"s":"c","t":40,"v":-1.0},
{"p":["f"],"s":"c","t":0,"v":-0.87},{"p":["f"],"s":"c","t":0.26,"v":-0.95},{"p":["f"],"s":"c","t":0.86,"v":-1.1},{"p":["f"],"s":"c","t":1.46,"v":-1.19},{"p":["f"],"s":"c","t":2.06,"v":-1.22},{"p":["f"],"s":"c","t":2.66,"v":-1.19},{"p":["f"],"s":"c","t":3.26,"v":-1.1},{"p":["f"],"s":"c","t":3.86,"v":-0.95},{"p":["f"],"s":"c","t":4.46,"v":-0.75},{"p":["f"],"s":"c","t":5.06,"v":-0.52},{"p":["f"],"s":"c","t":5.66,"v":-0.26},{"p":["f"],"s":"c","t":6.24,"v":0},{"p":["f"],"s":"c","t":6.84,"v":0.31},{"p":["f"],"s":"c","t":7.44,"v":0.6},{"p":["f"],"s":"c","t":8.04,"v":0.86},{"p":["f"],"s":"c","t":8.64,"v":1.08},{"p":["f"],"s":"c","t":9.24,"v":1.25},{"p":["f"],"s":"c","t":9.84,"v":1.35},{"p":["f"],"s":"c","t":10.44,"v":1.38},{"p":["f"],"s":"c","t":11.04,"v":1.34},{"p":["f"],"s":"c","t":11.64,"v":1.24},{"p":["f"],"s":"c","t":12.24,"v":1.07},{"p":["f"],"s":"c","t":12.84,"v":0.85},{"p":["f"],"s":"c","t":13.44,"v":0.59},{"p":["f"],"s":"c","t":14.04,"v":0.3},{"p":["f"],"s":"c","t":14.62,"v":0},{"p":["f"],"s":"c","t":15.22,"v":-0.27},{"p":["f"],"s":"c","t":15.82,"v":-0.53},{"p":["f"],"s":"c","t":16.42,"v":-0.76},{"p":["f"],"s":"c","t":17.02,"v":-0.95},{"p":["f"],"s":"c","t":17.62,"v":-1.1},{"p":["f"],"s":"c","t":18.22,"v":-1.19},{"p":["f"],"s":"c","t":18.82,"v":-1.22},{"p":["f"],"s":"c","t":19.42,"v":-1.19},{"p":["f"],"s":"c","t":20.02,"v":-1.1},{"p":["f"],"s":"c","t":20.62,"v":-0.95},{"p":["f"],"s":"c","t":21.22,"v":-0.75},{"p":["f"],"s":"c","t":21.82,"v":-0.52},{"p":["f"],"s":"c","t":22.42,"v":-0.26},{"p":["f"],"s":"c","t":23.0,"v":0},{"p":["f"],"s":"c","t":23.6,"v":0.31},{"p":["f"],"s":"c","t":24.2,"v":0.6},{"p":["f"],"s":"c","t":24.8,"v":0.86},{"p":["f"],"s":"c","t":25.4,"v":1.08},{"p":["f"],"s":"c","t":26.0,"v":1.25},{"p":["f"],"s":"c","t":26.6,"v":1.35},{"p":["f"],"s":"c","t":27.2,"v":1.38},{"p":["f"],"s":"c","t":27.8,"v":1.34},{"p":["f"],"s":"c","t":28.4,"v":1.24},{"p":["f"],"s":"c","t":29.0,"v":1.07},{"p":["f"],"s":"c","t":29.6,"v":0.85},{"p":["f"],"s":"c","t":30.2,"v":0.59},{"p":["f"],"s":"c","t":30.8,"v":0.3},{"p":["f"],"s":"c","t":31.38,"v":0},{"p":["f"],"s":"c","t":31.98,"v":-0.27},{"p":["f"],"s":"c","t":32.58,"v":-0.53},{"p":["f"],"s":"c","t":33.18,"v":-0.76},{"p":["f"],"s":"c","t":33.78,"v":-0.95},{"p":["f"],"s":"c","t":34.38,"v":-1.1},{"p":["f"],"s":"c","t":34.98,"v":-1.19},{"p":["f"],"s":"c","t":35.58,"v":-1.22},{"p":["f"],"s":"c","t":36.18,"v":-1.19},{"p":["f"],"s":"c","t":36.78,"v":-1.1},{"p":["f"],"s":"c","t":37.38,"v":-0.95},{"p":["f"],"s":"c","t":37.98,"v":-0.75},{"p":["f"],"s":"c","t":38.58,"v":-0.52},{"p":["f"],"s":"c","t":39.18,"v":-0.26},{"p":["f"],"s":"c","t":39.76,"v":0},{"p":["f"],"s":"c","t":40,"v":0.12}
]},
"transform":[{"flatten":["p"]}],
"facet":{"field":"p","type":"nominal","title":null,"header":{"title":null,"labelExpr":"''","labelFontSize":0,"labelPadding":0,"labelColor":"transparent"}},
"spec":{"width":571,"height":388,"layer":[
{"transform":[{"filter":"datum.s=='info'"}],"mark":{"type":"rect","fill":"#cccccc"},"encoding":{"x":{"datum":-1.0351,"type":"quantitative","scale":{"domain":[-1.0351,41.183],"nice":false,"zero":false}},"x2":{"datum":41.183},"y":{"datum":-5.2138,"type":"quantitative","scale":{"domain":[-6.42759,4.27586],"nice":false,"zero":false}},"y2":{"datum":4.27586}}},
{"transform":[{"filter":"datum.s=='info'"}],"mark":{"type":"rect","fill":"#ffffff"},"encoding":{"x":{"datum":0},"x2":{"datum":40},"y":{"datum":-4},"y2":{"datum":4}}},
{"transform":[{"filter":"datum.s=='gx'"}],"mark":{"type":"rule","stroke":"#4d4d4d","strokeWidth":1,"strokeDash":[1,6.25]},"encoding":{"x":{"field":"t","type":"quantitative"},"y":{"datum":4},"y2":{"datum":-4}}},
{"transform":[{"filter":"datum.s=='gy'"}],"mark":{"type":"rule","stroke":"#4d4d4d","strokeWidth":1,"strokeDash":[1,9.82]},"encoding":{"x":{"datum":0},"x2":{"datum":40},"y":{"field":"y","type":"quantitative"}}},
{"transform":[{"filter":"datum.s=='tx'"}],"mark":{"type":"rule","stroke":"#555555","strokeWidth":1},"encoding":{"x":{"field":"t","type":"quantitative"},"y":{"datum":0.1},"y2":{"datum":-0.1}}},
{"transform":[{"filter":"datum.s=='tx'"}],"mark":{"type":"rule","stroke":"#555555","strokeWidth":1},"encoding":{"x":{"field":"t","type":"quantitative"},"y":{"datum":4},"y2":{"datum":3.88}}},
{"transform":[{"filter":"datum.s=='tx'"}],"mark":{"type":"rule","stroke":"#555555","strokeWidth":1},"encoding":{"x":{"field":"t","type":"quantitative"},"y":{"datum":-4},"y2":{"datum":-3.88}}},
{"transform":[{"filter":"datum.s=='ty'"}],"mark":{"type":"rule","stroke":"#555555","strokeWidth":1},"encoding":{"y":{"field":"y","type":"quantitative"},"x":{"datum":19.73},"x2":{"datum":20.27}}},
{"transform":[{"filter":"datum.s=='ty'"}],"mark":{"type":"rule","stroke":"#555555","strokeWidth":1},"encoding":{"y":{"field":"y","type":"quantitative"},"x":{"datum":0},"x2":{"datum":0.25}}},
{"transform":[{"filter":"datum.s=='ty'"}],"mark":{"type":"rule","stroke":"#555555","strokeWidth":1},"encoding":{"y":{"field":"y","type":"quantitative"},"x":{"datum":39.75},"x2":{"datum":40}}},
{"transform":[{"filter":"datum.s=='info'"}],"mark":{"type":"rule","stroke":"#3a3a3a","strokeWidth":1},"encoding":{"x":{"datum":0},"x2":{"datum":40},"y":{"datum":0}}},
{"transform":[{"filter":"datum.s=='info'"}],"mark":{"type":"rule","stroke":"#3a3a3a","strokeWidth":1},"encoding":{"x":{"datum":20},"y":{"datum":-4},"y2":{"datum":4}}},
{"transform":[{"filter":"datum.s=='info'"}],"mark":{"type":"rect","filled":false,"stroke":"#555555","strokeWidth":1},"encoding":{"x":{"datum":0},"x2":{"datum":40},"y":{"datum":-4},"y2":{"datum":4}}},
{"transform":[{"filter":"datum.s=='m'"}],"mark":{"type":"line","stroke":"#a83ca8","strokeWidth":1.3},"encoding":{"x":{"field":"t","type":"quantitative"},"y":{"field":"v","type":"quantitative"}}},
{"transform":[{"filter":"datum.s=='g'"}],"mark":{"type":"line","stroke":"#2ec42e","strokeWidth":3},"encoding":{"x":{"field":"t","type":"quantitative"},"y":{"field":"v","type":"quantitative"}}},
{"transform":[{"filter":"datum.s=='c'"}],"mark":{"type":"line","stroke":"#2ccaca","strokeWidth":3.2},"encoding":{"x":{"field":"t","type":"quantitative"},"y":{"field":"v","type":"quantitative"}}},
{"transform":[{"filter":"datum.s=='v'"}],"mark":{"type":"area","fill":"#1a28c4","stroke":"#1420a4","strokeWidth":1.6,"opacity":1},"encoding":{"x":{"field":"t","type":"quantitative"},"y":{"field":"hi","type":"quantitative"},"y2":{"field":"lo"}}},
{"transform":[{"filter":"datum.s=='info'"}],"mark":{"type":"rect","fill":"#ffffff","stroke":"#b4b4b4","strokeWidth":1},"encoding":{"x":{"datum":5.47},"x2":{"datum":11.31},"y":{"datum":3.992},"y2":{"datum":4.257}}},
{"transform":[{"filter":"datum.s=='info'"}],"mark":{"type":"rect","fill":"#ffffff","stroke":"#9a9a9a","strokeWidth":1},"encoding":{"x":{"datum":11.35},"x2":{"datum":28.87},"y":{"datum":3.992},"y2":{"datum":4.257}}},
{"transform":[{"filter":"datum.s=='info'"}],"mark":{"type":"rect","fill":"#ffffff","stroke":"#b4b4b4","strokeWidth":1},"encoding":{"x":{"datum":28.91},"x2":{"datum":34.6},"y":{"datum":3.992},"y2":{"datum":4.257}}},
{"transform":[{"filter":"datum.s=='info'"}],"mark":{"type":"rule","strokeWidth":1.3},"encoding":{"x":{"datum":11.5},"x2":{"datum":28.72},"y":{"datum":4.138},"stroke":{"field":"sel","type":"nominal","scale":{"domain":["1","2","3","4"],"range":["#3a4cff","#22cccc","#a848a8","#33b833"]},"legend":null}}},
{"transform":[{"filter":"datum.s=='info'"}],"mark":{"type":"text","text":"Tek","font":"DejaVu Serif","fontWeight":"bold","fontSize":10.5,"align":"left","baseline":"middle","color":"#000000"},"encoding":{"x":{"datum":-0.98},"y":{"datum":4.138}}},
{"transform":[{"filter":"datum.s=='info'"}],"mark":{"type":"text","text":"PreVu","align":"left","baseline":"middle","color":"#000000"},"encoding":{"x":{"datum":0.92},"y":{"datum":4.138}}},
{"transform":[{"filter":"datum.s=='info'"}],"mark":{"type":"rule","stroke":"#f0a000","strokeWidth":3},"encoding":{"x":{"datum":20},"y":{"datum":4.257},"y2":{"datum":3.93}}},
{"transform":[{"filter":"datum.s=='info'"}],"mark":{"type":"point","shape":"triangle-down","filled":true,"fill":"#f0a000","size":40,"opacity":1},"encoding":{"x":{"datum":20},"y":{"datum":3.9}}},
{"transform":[{"filter":"datum.s=='info'"}],"mark":{"type":"rect","fill":"#f0a000","cornerRadius":2},"encoding":{"x":{"datum":19.69},"x2":{"datum":20.31},"y":{"datum":3.522},"y2":{"datum":3.798}}},
{"transform":[{"filter":"datum.s=='info'"}],"mark":{"type":"text","text":"T","fontSize":9,"fontWeight":"bold","color":"#ffffff","align":"center","baseline":"middle"},"encoding":{"x":{"datum":20},"y":{"datum":3.66}}},
{"transform":[{"filter":"datum.s=='info'"}],"mark":{"type":"point","shape":"M-1,-0.75L0.35,-0.75L1,0L0.35,0.75L-1,0.75Z","filled":true,"size":144,"opacity":1,"stroke":"#ffffff","strokeWidth":0.8},"encoding":{"x":{"datum":-0.59},"y":{"datum":0},"fill":{"field":"sel","type":"nominal","scale":{"domain":["1","2","3","4"],"range":["#2144ff","#38d4d4","#9a1e9a","#1eaa1e"]},"legend":null}}},
{"transform":[{"filter":"datum.s=='info'"}],"mark":{"type":"text","fontSize":9,"fontWeight":"bold","color":"#ffffff","align":"center","baseline":"middle"},"encoding":{"x":{"datum":-0.68},"y":{"datum":0},"text":{"field":"sel"}}},
{"transform":[{"filter":"datum.s=='info' && indexof(['a','b','c','d'],datum.p)>=0"}],"mark":{"type":"rect","fill":"#ffffff","stroke":"#6e6e6e","strokeWidth":1,"cornerRadius":4},"encoding":{"x":{"datum":0.074},"x2":{"datum":17.08},"y":{"datum":-4.4055},"y2":{"datum":-3.6883}}},
{"transform":[{"filter":"datum.s=='info' && (datum.p=='e'||datum.p=='f')"}],"mark":{"type":"rect","fill":"#ffffff","stroke":"#6e6e6e","strokeWidth":1,"cornerRadius":4},"encoding":{"x":{"datum":0.074},"x2":{"datum":17.08},"y":{"datum":-4.428},"y2":{"datum":-4.069}}},
{"transform":[{"filter":"datum.s=='info'"}],"mark":{"type":"rect","fill":"#ffffff","stroke":"#6e6e6e","strokeWidth":1,"cornerRadius":4},"encoding":{"x":{"datum":17.375},"x2":{"datum":35.34},"y":{"datum":-4.4055},"y2":{"datum":-3.6883}}},
{"transform":[{"filter":"datum.s=='info'"}],"mark":{"type":"rect","fill":"#ffffff","stroke":"#6e6e6e","strokeWidth":1,"cornerRadius":4},"encoding":{"x":{"datum":0.074},"x2":{"datum":35.34},"y":{"datum":-5.19},"y2":{"datum":-4.469}}},
{"transform":[{"filter":"datum.s=='info'"}],"mark":{"type":"rect","fill":"#ffffff","stroke":"#6e6e6e","strokeWidth":1,"cornerRadius":4},"encoding":{"x":{"datum":35.42},"x2":{"datum":41.11},"y":{"datum":-4.93},"y2":{"datum":-4.193}}},
{"transform":[{"filter":"datum.s=='info' && indexof(['a','b','c','d'],datum.p)>=0"}],"mark":{"type":"rect","fill":"#2144ff","cornerRadius":5},"encoding":{"x":{"datum":0.21},"x2":{"datum":1.54},"y":{"datum":-4.004},"y2":{"datum":-3.72}}},
{"transform":[{"filter":"datum.s=='info' && (datum.p=='e'||datum.p=='f')"}],"mark":{"type":"rect","fill":"#2144ff","cornerRadius":5},"encoding":{"x":{"datum":0.21},"x2":{"datum":1.54},"y":{"datum":-4.372},"y2":{"datum":-4.088}}},
{"transform":[{"filter":"datum.s=='info' && indexof(['a','b','c','d'],datum.p)>=0"}],"mark":{"type":"text","text":"1","align":"center","baseline":"middle","fontSize":10,"color":"#000000"},"encoding":{"x":{"datum":0.874},"y":{"datum":-3.862}}},
{"transform":[{"filter":"datum.s=='info' && (datum.p=='e'||datum.p=='f')"}],"mark":{"type":"text","text":"1","align":"center","baseline":"middle","fontSize":10,"color":"#000000"},"encoding":{"x":{"datum":0.874},"y":{"datum":-4.23}}},
{"transform":[{"filter":"datum.s=='info' && indexof(['a','b','c','d'],datum.p)>=0"}],"mark":{"type":"text","text":"15.0 V","align":"left","baseline":"middle","color":"#2f44ff"},"encoding":{"x":{"datum":2.61},"y":{"datum":-3.862}}},
{"transform":[{"filter":"datum.s=='info' && (datum.p=='e'||datum.p=='f')"}],"mark":{"type":"text","text":"15.0 V","align":"left","baseline":"middle","color":"#2f44ff"},"encoding":{"x":{"datum":2.61},"y":{"datum":-4.23}}},
{"transform":[{"filter":"datum.s=='info' && (datum.p=='a'||datum.p=='b')"}],"mark":{"type":"rect","cornerRadius":5},"encoding":{"x":{"datum":0.21},"x2":{"datum":1.54},"y":{"datum":-4.363},"y2":{"datum":-4.079},"fill":{"field":"ch","type":"nominal","scale":{"domain":["1","2","3","4"],"range":["#2144ff","#38d4d4","#9a1e9a","#1eaa1e"]},"legend":null}}},
{"transform":[{"filter":"datum.s=='info' && indexof(['c','d','e','f'],datum.p)>=0"}],"mark":{"type":"rect","cornerRadius":5},"encoding":{"x":{"datum":8.94},"x2":{"datum":10.26},"y":{"datum":-4.367},"y2":{"datum":-4.083},"fill":{"field":"ch","type":"nominal","scale":{"domain":["1","2","3","4"],"range":["#2144ff","#38d4d4","#9a1e9a","#1eaa1e"]},"legend":null}}},
{"transform":[{"filter":"datum.s=='info' && (datum.p=='a'||datum.p=='b')"}],"mark":{"type":"text","align":"center","baseline":"middle","fontSize":10,"color":"#000000"},"encoding":{"x":{"datum":0.874},"y":{"datum":-4.221},"text":{"field":"ch"}}},
{"transform":[{"filter":"datum.s=='info' && indexof(['c','d','e','f'],datum.p)>=0"}],"mark":{"type":"text","align":"center","baseline":"middle","fontSize":10,"color":"#000000"},"encoding":{"x":{"datum":9.6},"y":{"datum":-4.225},"text":{"field":"ch"}}},
{"transform":[{"filter":"datum.s=='info' && (datum.p=='a'||datum.p=='b')"}],"mark":{"type":"text","align":"left","baseline":"middle"},"encoding":{"x":{"datum":2.61},"y":{"datum":-4.221},"text":{"field":"sc2"},"color":{"field":"ch","type":"nominal","scale":{"domain":["1","2","3","4"],"range":["#2f44ff","#22c6d6","#b02cb0","#22b022"]},"legend":null}}},
{"transform":[{"filter":"datum.s=='info' && indexof(['c','d','e','f'],datum.p)>=0"}],"mark":{"type":"text","align":"left","baseline":"middle"},"encoding":{"x":{"datum":11.24},"y":{"datum":-4.225},"text":{"field":"sc2"},"color":{"field":"ch","type":"nominal","scale":{"domain":["1","2","3","4"],"range":["#2f44ff","#22c6d6","#b02cb0","#22b022"]},"legend":null}}},
{"transform":[{"filter":"datum.s=='info'"}],"mark":{"type":"text","text":"4.00ms","align":"left","baseline":"middle","color":"#000000"},"encoding":{"x":{"datum":17.55},"y":{"datum":-3.862}}},
{"transform":[{"filter":"datum.s=='info'"}],"mark":{"type":"text","text":"250kS/s","align":"left","baseline":"middle","color":"#000000"},"encoding":{"x":{"datum":24.99},"y":{"datum":-3.862}}},
{"transform":[{"filter":"datum.s=='info'"}],"mark":{"type":"text","text":"Line ʃ","align":"left","baseline":"middle","color":"#000000"},"encoding":{"x":{"datum":30.46},"y":{"datum":-3.862}}},
{"transform":[{"filter":"datum.s=='info'"}],"mark":{"type":"rect","fill":"#f0a000","cornerRadius":1.5},"encoding":{"x":{"datum":17.48},"x2":{"datum":18.08},"y":{"datum":-4.35},"y2":{"datum":-4.09}}},
{"transform":[{"filter":"datum.s=='info'"}],"mark":{"type":"text","text":"T","align":"center","baseline":"middle","fontSize":8,"fontWeight":"bold","color":"#ffffff"},"encoding":{"x":{"datum":17.78},"y":{"datum":-4.221}}},
{"transform":[{"filter":"datum.s=='info'"}],"mark":{"type":"text","align":"left","baseline":"middle","color":"#f0a000"},"encoding":{"x":{"datum":18.12},"y":{"datum":-4.221},"text":{"field":"trig"}}},
{"transform":[{"filter":"datum.s=='info'"}],"mark":{"type":"text","text":"10k point","align":"left","baseline":"middle","color":"#000000"},"encoding":{"x":{"datum":24.99},"y":{"datum":-4.221}}},
{"transform":[{"filter":"datum.s=='info'"}],"mark":{"type":"text","text":"0.00 V","align":"left","baseline":"middle","color":"#000000"},"encoding":{"x":{"datum":30.98},"y":{"datum":-4.221}}},
{"transform":[{"filter":"datum.s=='info'"}],"mark":{"type":"text","text":"Value","align":"left","baseline":"middle","color":"#000000"},"encoding":{"x":{"datum":7.57},"y":{"datum":-4.654}}},
{"transform":[{"filter":"datum.s=='info'"}],"mark":{"type":"text","text":"Mean","align":"left","baseline":"middle","color":"#000000"},"encoding":{"x":{"datum":12.62},"y":{"datum":-4.654}}},
{"transform":[{"filter":"datum.s=='info'"}],"mark":{"type":"text","text":"Min","align":"left","baseline":"middle","color":"#000000"},"encoding":{"x":{"datum":18.29},"y":{"datum":-4.654}}},
{"transform":[{"filter":"datum.s=='info'"}],"mark":{"type":"text","text":"Max","align":"left","baseline":"middle","color":"#000000"},"encoding":{"x":{"datum":23.96},"y":{"datum":-4.654}}},
{"transform":[{"filter":"datum.s=='info'"}],"mark":{"type":"text","text":"Std Dev","align":"left","baseline":"middle","color":"#000000"},"encoding":{"x":{"datum":29.55},"y":{"datum":-4.654}}},
{"transform":[{"filter":"datum.s=='info'"}],"mark":{"type":"rect","cornerRadius":5},"encoding":{"x":{"datum":0.21},"x2":{"datum":1.54},"y":{"datum":-5.163},"y2":{"datum":-4.879},"fill":{"field":"ch","type":"nominal","scale":{"domain":["1","2","3","4"],"range":["#2144ff","#38d4d4","#9a1e9a","#1eaa1e"]},"legend":null}}},
{"transform":[{"filter":"datum.s=='info'"}],"mark":{"type":"text","align":"center","baseline":"middle","fontSize":10,"color":"#000000"},"encoding":{"x":{"datum":0.874},"y":{"datum":-5.021},"text":{"field":"ch"}}},
{"transform":[{"filter":"datum.s=='info'"}],"mark":{"type":"text","text":"RMS","align":"left","baseline":"middle"},"encoding":{"x":{"datum":1.95},"y":{"datum":-5.021},"color":{"field":"ch","type":"nominal","scale":{"domain":["1","2","3","4"],"range":["#2f44ff","#22c6d6","#b02cb0","#22b022"]},"legend":null}}},
{"transform":[{"filter":"datum.s=='info'"}],"mark":{"type":"text","align":"left","baseline":"middle"},"encoding":{"x":{"datum":7.57},"y":{"datum":-5.021},"text":{"field":"rmsA"},"color":{"field":"ch","type":"nominal","scale":{"domain":["1","2","3","4"],"range":["#2f44ff","#22c6d6","#b02cb0","#22b022"]},"legend":null}}},
{"transform":[{"filter":"datum.s=='info'"}],"mark":{"type":"text","align":"left","baseline":"middle"},"encoding":{"x":{"datum":12.62},"y":{"datum":-5.021},"text":{"field":"rms"},"color":{"field":"ch","type":"nominal","scale":{"domain":["1","2","3","4"],"range":["#2f44ff","#22c6d6","#b02cb0","#22b022"]},"legend":null}}},
{"transform":[{"filter":"datum.s=='info'"}],"mark":{"type":"text","align":"left","baseline":"middle"},"encoding":{"x":{"datum":18.29},"y":{"datum":-5.021},"text":{"field":"rms"},"color":{"field":"ch","type":"nominal","scale":{"domain":["1","2","3","4"],"range":["#2f44ff","#22c6d6","#b02cb0","#22b022"]},"legend":null}}},
{"transform":[{"filter":"datum.s=='info'"}],"mark":{"type":"text","align":"left","baseline":"middle"},"encoding":{"x":{"datum":23.96},"y":{"datum":-5.021},"text":{"field":"rms"},"color":{"field":"ch","type":"nominal","scale":{"domain":["1","2","3","4"],"range":["#2f44ff","#22c6d6","#b02cb0","#22b022"]},"legend":null}}},
{"transform":[{"filter":"datum.s=='info'"}],"mark":{"type":"text","text":"0.000","align":"left","baseline":"middle"},"encoding":{"x":{"datum":29.55},"y":{"datum":-5.021},"color":{"field":"ch","type":"nominal","scale":{"domain":["1","2","3","4"],"range":["#2f44ff","#22c6d6","#b02cb0","#22b022"]},"legend":null}}},
{"transform":[{"filter":"datum.s=='info'"}],"mark":{"type":"text","text":"11 Jul  2014","align":"left","baseline":"middle","color":"#000000"},"encoding":{"x":{"datum":35.84},"y":{"datum":-4.268}}},
{"transform":[{"filter":"datum.s=='info'"}],"mark":{"type":"text","align":"left","baseline":"middle","color":"#000000"},"encoding":{"x":{"datum":35.84},"y":{"datum":-4.615},"text":{"field":"tm"}}},
{"transform":[{"filter":"datum.s=='info'"}],"mark":{"type":"text","align":"center","baseline":"middle","font":"DejaVu Serif","fontSize":20,"color":"#000000"},"encoding":{"x":{"datum":19.82},"y":{"datum":-6.069},"text":{"field":"lab"}}}
]},
"config":{"view":{"stroke":null},"axis":{"disable":true},"legend":{"disable":true},"text":{"font":"DejaVu Sans","fontSize":11,"color":"#000000"}}
}
